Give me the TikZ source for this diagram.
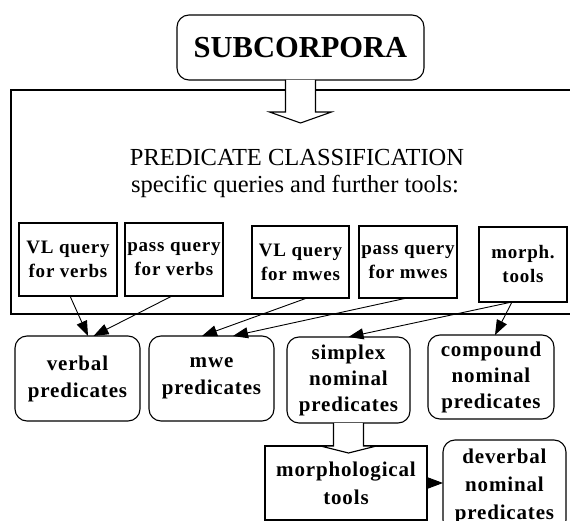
\documentclass[tikz,border=0pt]{standalone}
\usepackage{fontspec}
\setmainfont{Liberation Serif}
\newfontfamily\boxfont{Liberation Serif}[LetterSpace=4]
\usetikzlibrary{arrows.meta,calc}

\begin{document}
\begin{tikzpicture}[x=1pt,y=-1pt,
  every node/.style={inner sep=0pt, outer sep=0pt},
  frame/.style={draw, line width=1.1pt},
  qbox/.style={frame, rectangle, minimum width=98pt, minimum height=73pt, align=center,
    font=\boxfont\bfseries\fontsize{19}{24}\selectfont},
  pbox/.style={frame, rounded corners=12pt, align=center,
    font=\boxfont\bfseries\fontsize{21}{27}\selectfont},
  link/.style={line width=0.9pt, -{Triangle[length=15pt,width=11pt]}},
  hollow/.style={draw, line width=1.1pt, fill=white, line join=miter}
]
\useasboundingbox (0,0) rectangle (570,521);
\fill[white] (0,0) rectangle (570,521);

% top source box
\node[frame, rounded corners=12pt, minimum width=247pt, minimum height=65pt,
  font=\bfseries\fontsize{30.5}{35}\selectfont] (sub) at (300.5,47.5) {SUBCORPORA};

% classification stage (open to the right)
\node[frame, rectangle, minimum width=570pt, minimum height=224pt] (stage) at (296,202) {};
\node[anchor=base, font=\fontsize{24.5}{29}\selectfont] (pc) at (297,166) {PREDICATE CLASSIFICATION};
\node[anchor=base, font=\fontsize{24.5}{29}\selectfont] (pcsub) at (295,193) {specific queries and further tools:};

% hollow arrow into the stage
\draw[hollow] ($(sub.south)+(-15,0)$) -- ($(sub.south)+(-15,32)$) -- ($(sub.south)+(-31,32)$)
  -- ($(sub.south)+(0,43)$) -- ($(sub.south)+(31,32)$) -- ($(sub.south)+(15,32)$)
  -- ($(sub.south)+(15,0)$);

% query and tool boxes
\node[qbox] (vlv) at (68,259.5) {VL query\\for verbs};
\node[qbox] (pav) at (174,259.5) {pass query\\for verbs};
\node[qbox, minimum width=97pt, minimum height=72pt] (vlm) at (300.5,262) {VL query\\for mwes};
\node[qbox, minimum width=98pt, minimum height=72pt] (pam) at (408,262) {pass query\\for mwes};
\node[qbox, minimum width=88pt, minimum height=75pt] (mor) at (523,264.5) {morph.\\tools};

% predicate classes
\node[pbox, minimum width=125pt, minimum height=85pt] (verbal) at (77.5,378.5) {verbal\\predicates};
\node[pbox, minimum width=125pt, minimum height=85pt] (mwe) at (211.5,378.5) {mwe\\predicates};
\node[pbox, minimum width=123pt, minimum height=86pt, font=\boxfont\bfseries\fontsize{21}{26}\selectfont] (simplex) at (348.5,380) {simplex\\nominal\\predicates};
\node[pbox, minimum width=126pt, minimum height=84pt, font=\boxfont\bfseries\fontsize{21}{26}\selectfont] (compound) at (491,377) {compound\\nominal\\predicates};

\node[qbox, minimum width=162pt, minimum height=74pt, font=\boxfont\bfseries\fontsize{21}{28}\selectfont] (morph) at (346,483) {morphological\\tools};
\node[pbox, minimum width=123pt, minimum height=92pt, font=\boxfont\bfseries\fontsize{21}{28}\selectfont] (deverbal) at (504.5,486) {deverbal\\nominal\\predicates};

% hollow arrow from simplex to morphological tools
\draw[hollow] ($(simplex.south)+(-15,0)$) -- ($(simplex.south)+(-15,23)$) -- ($(simplex.south)+(-28,23)$)
  -- ($(simplex.south)+(0,30)$) -- ($(simplex.south)+(28,23)$) -- ($(simplex.south)+(15,23)$)
  -- ($(simplex.south)+(15,0)$);

% connectors
\draw[link] ([xshift=2pt]vlv.south) -- ([xshift=10.5pt]verbal.north);
\draw[link] ([xshift=-2pt]pav.south) -- ([xshift=16pt]verbal.north);
\draw[link] ([xshift=6.5pt]vlm.south) -- ([xshift=-9.5pt]mwe.north);
\draw[link] ([xshift=-1pt]pam.south) -- ([xshift=21.5pt]mwe.north);
\draw[link] ([xshift=-11pt]mor.south) -- (simplex.north);
\draw[link] ([xshift=-11pt]mor.south) -- ([xshift=4pt]compound.north);
\draw[link] (morph.east) -- (deverbal.west |- morph.east);
\end{tikzpicture}
\end{document}
